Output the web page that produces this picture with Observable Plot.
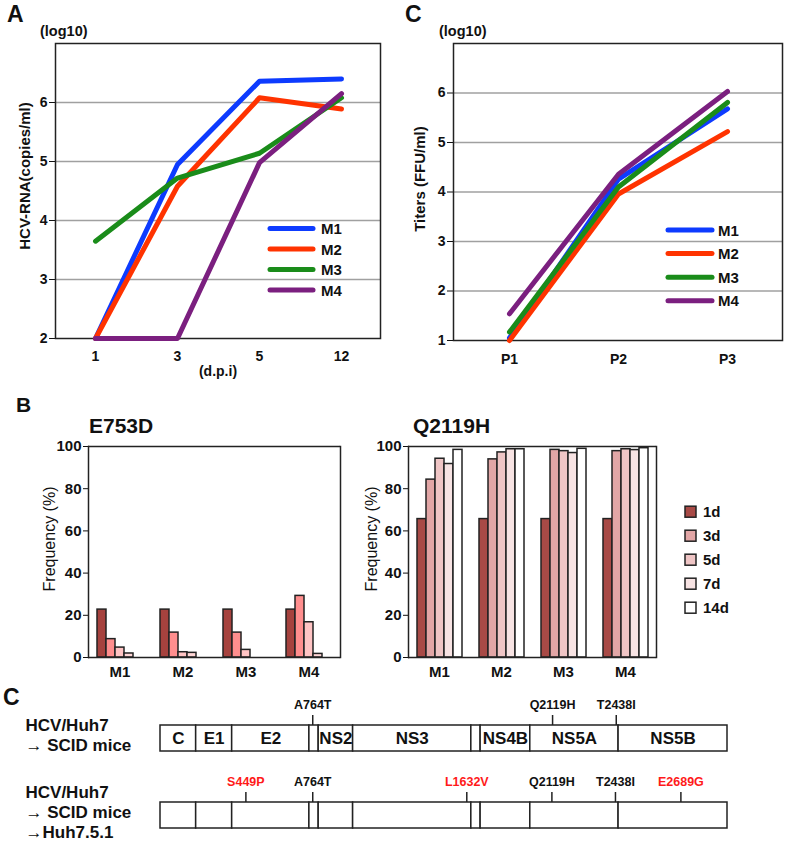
<!DOCTYPE html>
<html><head><meta charset="utf-8">
<script src="https://cdn.jsdelivr.net/npm/d3@7"></script>
<script src="https://cdn.jsdelivr.net/npm/@observablehq/plot@0.6"></script>
<style>
body{margin:0;background:#fff;}
#wrap{position:relative;width:787px;height:841px;overflow:hidden;background:#fff;font-family:"Liberation Sans",Arial,sans-serif;}
.pane{position:absolute;}
.pane svg{background:transparent !important;overflow:visible;display:block;}
#overlay{position:absolute;left:0;top:0;pointer-events:none;}
</style></head><body>
<div id="wrap"></div>
<script>
// ---------- data ----------
const mice = ["M1","M2","M3","M4"];
const lineColors = ["#0d3bff","#ff3300","#1a8c1a","#7b1f7f"];

// Panel A: HCV-RNA (log10 copies/ml) by days post infection
const dpi = ["1","3","5","12"];
const rnaM1 = [2.0, 4.95, 6.36, 6.40];
const rnaM2 = [2.0, 4.58, 6.08, 5.89];
const rnaM3 = [3.65, 4.72, 5.14, 6.08];
const rnaM4 = [2.0, 2.0, 4.98, 6.15];
const rnaTicks = [2,3,4,5,6];

// Panel C (top): titers (log10 FFU/ml) by passage
const passages = ["P1","P2","P3"];
const titerM1 = [1.05, 4.26, 5.68];
const titerM2 = [1.0, 3.96, 5.22];
const titerM3 = [1.17, 4.10, 5.81];
const titerM4 = [1.54, 4.36, 6.03];
const titerTicks = [1,2,3,4,5,6];

// Panel B: mutation frequencies (%)
const daysB = ["1d","3d","5d","7d","14d"];
const e753dM1 = [22.7, 8.7, 4.7, 1.9, 0];
const e753dM2 = [22.7, 11.8, 2.5, 2.2, 0];
const e753dM3 = [22.7, 11.8, 3.6, 0, 0];
const e753dM4 = [22.7, 29.2, 16.7, 1.7, 0];
const q2119hM1 = [65.6, 84.3, 94.2, 91.7, 98.4];
const q2119hM2 = [65.6, 93.9, 97.2, 98.7, 98.7];
const q2119hM3 = [65.6, 98.4, 97.8, 96.9, 98.9];
const q2119hM4 = [65.6, 97.8, 98.7, 98.3, 99.2];
const freqTicks = [0,20,40,60,80,100];
const e753dColors = ["#a6423e","#ff8e8e","#ffc4c4","#ffd6d6","#ffffff"];
const q2119hColors = ["#a84a46","#e2a6a6","#efc5c5","#f7e3e3","#ffffff"];

// Genome schematic (positions in % of genome length)
const genes = ["C","E1","E2","p7","NS2","NS3","NS4A","NS4B","NS5A","NS5B"];
const geneLabels = ["C","E1","E2","","NS2","NS3","","NS4B","NS5A","NS5B"];
const geneStart = [0, 6.29, 12.64, 26.26, 27.90, 33.97, 54.82, 56.46, 65.22, 80.79];
const geneEnd = [6.29, 12.64, 26.26, 27.90, 33.97, 54.82, 56.46, 65.22, 80.79, 100];
const rowKeys = ["r1","r2"];
const rowLabels = ["HCV/Huh7\n\u2192 SCID mice", "HCV/Huh7\n\u2192 SCID mice\n\u2192Huh7.5.1"];
const mut1Names = ["A764T","Q2119H","T2438I"];
const mut1Pos = [26.85, 69.15, 80.38];
const mut1Colors = ["#111","#111","#111"];
const mut2Names = ["S449P","A764T","L1632V","Q2119H","T2438I","E2689G"];
const mut2Pos = [15.06, 26.85, 54.02, 69.03, 80.24, 91.78];
const mut2Colors = ["#ff1a1a","#111","#ff1a1a","#111","#111","#ff1a1a"];

// ---------- tables ----------
const FONT = "Liberation Sans, Arial, Helvetica, sans-serif";
const rnaSeries = [rnaM1, rnaM2, rnaM3, rnaM4];
const rnaTable = mice.flatMap((m,i) => dpi.map((d,j) => ({mouse:m, day:d, value:rnaSeries[i][j]})));
const titerSeries = [titerM1, titerM2, titerM3, titerM4];
const titerTable = mice.flatMap((m,i) => passages.map((p,j) => ({mouse:m, passage:p, value:titerSeries[i][j]})));
const e753dSeries = [e753dM1, e753dM2, e753dM3, e753dM4];
const q2119hSeries = [q2119hM1, q2119hM2, q2119hM3, q2119hM4];
const barTable = s => mice.flatMap((m,i) => daysB.map((d,j) => ({mouse:m, day:d, value:s[i][j]})));
const geneTable = rowKeys.flatMap(r => genes.map((g,i) => ({row:r, gene:g, label:geneLabels[i], start:geneStart[i], end:geneEnd[i]})));
const mutTable = [
  ...mut1Names.map((n,i) => ({row:"r1", name:n, pos:mut1Pos[i], color:mut1Colors[i]})),
  ...mut2Names.map((n,i) => ({row:"r2", name:n, pos:mut2Pos[i], color:mut2Colors[i]}))
];
const rowTable = rowKeys.map((r,i) => ({row:r, label:rowLabels[i]}));

const wrap = document.getElementById("wrap");
function place(svg, left, top, width){
  const d = document.createElement("div");
  d.className = "pane";
  d.style.left = left + "px"; d.style.top = top + "px"; d.style.width = width + "px";
  d.appendChild(svg);
  wrap.appendChild(d);
}
const baseStyle = sz => ({fontFamily: FONT, fontSize: sz + "px", fontWeight: "bold", color: "#111", background: "transparent", overflow: "visible"});
const intFmt = d => String(d);

// ---------- Panel A ----------
const chartA = Plot.plot({
  width: 390, height: 385, marginLeft: 55, marginRight: 10, marginTop: 43, marginBottom: 47,
  style: baseStyle(14),
  x: {type: "point", domain: dpi, padding: 0.48, tickSize: 0, tickPadding: 13, label: null},
  y: {domain: [2, 7], ticks: rnaTicks, tickFormat: intFmt, tickSize: 6, tickPadding: 2, label: null},
  color: {domain: mice, range: lineColors},
  marks: [
    Plot.ruleY(rnaTicks.slice(1), {stroke: "#a0a0a0", strokeWidth: 1.5}),
    Plot.frame({stroke: "#222", strokeWidth: 1.5}),
    Plot.line(rnaTable, {x: "day", y: "value", stroke: "mouse", z: "mouse", strokeWidth: 5, strokeLinejoin: "round"}),
    Plot.text(["HCV-RNA(copies/ml)"], {frameAnchor: "left", textAnchor: "middle", rotate: -90, dx: -30, dy: -15, fontSize: 15}),
    Plot.text(["(d.p.i)"], {frameAnchor: "bottom", dy: 37, fontSize: 14})
  ]
});
place(chartA, 0, 0, 390);

// ---------- Panel C (top) ----------
const chartC = Plot.plot({
  width: 397, height: 385, marginLeft: 63, marginRight: 5, marginTop: 43, marginBottom: 45,
  style: baseStyle(14),
  x: {type: "point", domain: passages, padding: 0.5, tickSize: 0, tickPadding: 14, label: null},
  y: {domain: [1, 7], ticks: titerTicks, tickFormat: intFmt, tickSize: 6, tickPadding: 2, label: null},
  color: {domain: mice, range: lineColors},
  marks: [
    Plot.ruleY(titerTicks.slice(1), {stroke: "#a0a0a0", strokeWidth: 1.5}),
    Plot.frame({stroke: "#222", strokeWidth: 1.5}),
    Plot.line(titerTable, {x: "passage", y: "value", stroke: "mouse", z: "mouse", strokeWidth: 5, strokeLinejoin: "round"}),
    Plot.text(["Titers (FFU/ml)"], {frameAnchor: "left", textAnchor: "middle", rotate: -90, dx: -33, dy: -13, fontSize: 15})
  ]
});
place(chartC, 390, 0, 397);

// ---------- Panel B ----------
function barChart(series, colors, opts){
  return Plot.plot({
    width: opts.width, height: 247, marginLeft: opts.ml, marginRight: opts.mr, marginTop: 10, marginBottom: 26,
    style: baseStyle(15),
    fx: {domain: mice, padding: 0, axis: "bottom", tickSize: 0, tickPadding: 9, label: null},
    x: {domain: daysB, paddingInner: 0, paddingOuter: 0.7, axis: null},
    y: {domain: [0, 100], ticks: freqTicks, tickFormat: intFmt, tickSize: 5, tickPadding: 2, label: null},
    color: {domain: daysB, range: colors},
    marks: [
      Plot.barY(barTable(series), {fx: "mouse", x: "day", y: "value", fill: "day", stroke: "#222", strokeWidth: 1.5}),
      Plot.ruleY([0, 100], {stroke: "#222", strokeWidth: 1.5}),
      Plot.frame({anchor: "left", facetAnchor: "left", stroke: "#222", strokeWidth: 1.5}),
      Plot.frame({anchor: "right", facetAnchor: "right", stroke: "#222", strokeWidth: 1.5}),
      Plot.text(["Frequency (%)"], {frameAnchor: "left", facetAnchor: "left", textAnchor: "middle", rotate: -90, dx: opts.ldx, dy: -13, fontSize: 16, fontWeight: "normal"})
    ]
  });
}
place(barChart(e753dSeries, e753dColors, {width: 350, ml: 86, mr: 9, ldx: -39}), 0, 436, 350);
place(barChart(q2119hSeries, q2119hColors, {width: 322, ml: 62, mr: 10, ldx: -37}), 345, 436, 322);

// ---------- Genome schematic ----------
const chartG = Plot.plot({
  width: 787, height: 161, marginLeft: 160, marginRight: 60, marginTop: 45, marginBottom: 13,
  style: baseStyle(17),
  x: {domain: [0, 100], axis: null},
  y: {type: "band", domain: rowKeys, paddingInner: 0.664, paddingOuter: 0, axis: null},
  color: {type: "identity"},
  marks: [
    Plot.tickX(mutTable, {x: "pos", y: "row", dy: -10, stroke: "#222", strokeWidth: 1.5}),
    Plot.barX(geneTable, {x1: "start", x2: "end", y: "row", fill: "white", stroke: "#222", strokeWidth: 1.5}),
    Plot.text(geneTable.filter(d => d.row === "r1"), {x: d => (d.start + d.end) / 2, y: "row", text: "label", fontSize: 17}),
    Plot.text(mutTable, {x: "pos", y: "row", text: "name", fill: "color", dy: -34, fontSize: 12.5}),
    Plot.text(rowTable, {y: "row", text: "label", frameAnchor: "left", textAnchor: "start", dx: -135, dy: -4, lineHeight: 1.2, fontSize: 17})
  ]
});
place(chartG, 0, 680, 787);

// ---------- overlay: panel letters, titles, legends ----------
const ov = d3.select("#wrap").append("svg").attr("id", "overlay").attr("width", 787).attr("height", 841)
  .style("font-family", FONT).style("font-weight", "bold").attr("fill", "#111");
function txt(x, y, s, size){ ov.append("text").attr("x", x).attr("y", y).attr("font-size", size).text(s); }
txt(7, 22, "A", 23);
txt(405, 22, "C", 23);
txt(16, 412, "B", 21);
txt(3, 705, "C", 23);
txt(40, 36, "(log10)", 14.5);
txt(439, 36, "(log10)", 14.5);
txt(89, 433, "E753D", 21);
txt(413, 433, "Q2119H", 21);

mice.forEach((m, i) => {
  const ya = 228.5 + i * 20.5;
  ov.append("line").attr("x1", 270).attr("x2", 313).attr("y1", ya).attr("y2", ya)
    .attr("stroke", lineColors[i]).attr("stroke-width", 5).attr("stroke-linecap", "round");
  txt(321, ya + 5.5, m, 15);
  const yc = 230 + i * 23.6;
  ov.append("line").attr("x1", 668).attr("x2", 712).attr("y1", yc).attr("y2", yc)
    .attr("stroke", lineColors[i]).attr("stroke-width", 5).attr("stroke-linecap", "round");
  txt(718, yc + 5.5, m, 15);
});
daysB.forEach((d, i) => {
  const y = 511.7 + i * 24;
  ov.append("rect").attr("x", 685).attr("y", y - 5.5).attr("width", 11).attr("height", 11)
    .attr("fill", q2119hColors[i]).attr("stroke", "#222").attr("stroke-width", 1.5);
  txt(703, y + 5.5, d, 15);
});
</script>
</body></html>
